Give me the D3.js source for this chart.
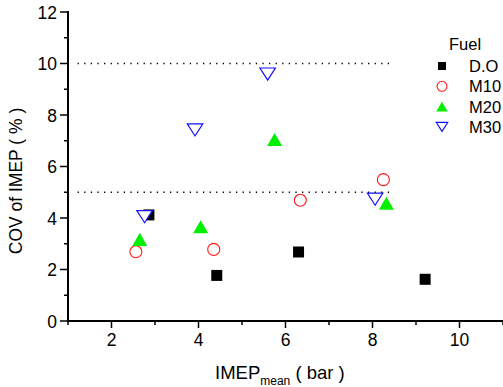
<!DOCTYPE html>
<html>
<head>
<meta charset="utf-8">
<script src="https://cdn.jsdelivr.net/npm/d3@7"></script>
<style>
  html, body { margin: 0; padding: 0; background: #fff; }
  svg { display: block; }
  text { font-family: "Liberation Sans", Arial, sans-serif; fill: #000; }
</style>
</head>
<body>
<svg id="chart" width="503" height="387"></svg>
<script>
// ---- data ----
const seriesNames = ["D.O", "M10", "M20", "M30"];
const doX  = [2.86, 4.42, 6.30, 9.21];
const doY  = [4.12, 1.77, 2.68, 1.62];
const m10X = [2.56, 4.35, 6.34, 8.25];
const m10Y = [2.69, 2.78, 4.69, 5.49];
const m20X = [2.65, 4.05, 5.75, 8.32];
const m20Y = [3.17, 3.66, 7.05, 4.57];
const m30X = [2.76, 3.92, 5.59, 8.06];
const m30Y = [4.05, 7.42, 9.59, 4.73];
const refLevels = [10, 5];
const refStart = 1.22, refEnd = 8.47;
const xTicks = [2, 4, 6, 8, 10];
const yTicks = [0, 2, 4, 6, 8, 10, 12];
const xMinor = [1, 3, 5, 7, 9, 11];
const yMinor = [1, 3, 5, 7, 9, 11];

const svg = d3.select("#chart");
const x = d3.scaleLinear().domain([1, 11]).range([68, 503]);
const y = d3.scaleLinear().domain([0, 12]).range([321, 12]);

// reference dotted lines
svg.selectAll("line.ref").data(refLevels).enter().append("line")
  .attr("x1", x(refStart)).attr("x2", x(refEnd))
  .attr("y1", d => y(d)).attr("y2", d => y(d))
  .attr("stroke", "#000").attr("stroke-width", 1.3)
  .attr("stroke-dasharray", "1.3,5.3");

// axes
const yAxis = svg.append("g");
yAxis.append("line").attr("x1", 68).attr("x2", 68).attr("y1", y(12) - 1).attr("y2", y(0) + 1)
  .attr("stroke", "#000").attr("stroke-width", 2);
yAxis.selectAll("line.maj").data(yTicks).enter().append("line")
  .attr("x1", 60).attr("x2", 68).attr("y1", d => y(d)).attr("y2", d => y(d))
  .attr("stroke", "#000").attr("stroke-width", 1.5);
yAxis.selectAll("line.min").data(yMinor).enter().append("line")
  .attr("x1", 64).attr("x2", 68).attr("y1", d => y(d)).attr("y2", d => y(d))
  .attr("stroke", "#000").attr("stroke-width", 1.5);
yAxis.selectAll("text").data(yTicks).enter().append("text")
  .attr("x", 57).attr("y", d => y(d) + 6.5).attr("text-anchor", "end")
  .attr("font-size", 17.5).text(d => d);

const xAxis = svg.append("g");
xAxis.append("line").attr("x1", 67).attr("x2", 503).attr("y1", 321).attr("y2", 321)
  .attr("stroke", "#000").attr("stroke-width", 2);
xAxis.selectAll("line.maj").data(xTicks).enter().append("line")
  .attr("x1", d => x(d)).attr("x2", d => x(d)).attr("y1", 321).attr("y2", 328)
  .attr("stroke", "#000").attr("stroke-width", 1.5);
xAxis.selectAll("line.min").data(xMinor).enter().append("line")
  .attr("x1", d => x(d)).attr("x2", d => x(d)).attr("y1", 321).attr("y2", 325)
  .attr("stroke", "#000").attr("stroke-width", 1.5);
xAxis.selectAll("text").data(xTicks).enter().append("text")
  .attr("x", d => x(d)).attr("y", 346).attr("text-anchor", "middle")
  .attr("font-size", 17.5).text(d => d);

// axis titles
svg.append("text").attr("transform", "translate(22,181) rotate(-90)")
  .attr("text-anchor", "middle").attr("font-size", 17.5).text("COV of IMEP ( % )");
const xt = svg.append("text").attr("x", 215).attr("y", 379).attr("font-size", 18.5);
xt.append("tspan").text("IMEP");
xt.append("tspan").attr("font-size", 12).attr("dy", 6).text("mean");
xt.append("tspan").attr("dy", -6).text(" ( bar )");

// marker shapes
const square = { draw(c, s) { const h = Math.sqrt(s) / 2; c.rect(-h, -h, 2 * h, 2 * h); } };
const triUp = { draw(c, s) { const w = Math.sqrt(s) / 2, h = w * 0.87; c.moveTo(0, -h); c.lineTo(w, h); c.lineTo(-w, h); c.closePath(); } };
const triDown = { draw(c, s) { const w = Math.sqrt(s) / 2, h = w * 0.78; c.moveTo(-w, -h); c.lineTo(w, -h); c.lineTo(0, h); c.closePath(); } };

const series = [
  { name: seriesNames[0], xs: doX, ys: doY, type: square, size: 121, legSize: 64, fill: "#000", stroke: "none", sw: 0 },
  { name: seriesNames[1], xs: m10X, ys: m10Y, type: d3.symbolCircle, size: 113, legSize: 78, fill: "#fff", stroke: "#ff1a1a", sw: 1.1 },
  { name: seriesNames[2], xs: m20X, ys: m20Y, type: triUp, size: 225, legSize: 130, fill: "#00f000", stroke: "none", sw: 0 },
  { name: seriesNames[3], xs: m30X, ys: m30Y, type: triDown, size: 240, legSize: 130, fill: "#fff", stroke: "#1010ff", sw: 1.2 }
];

series.forEach(s => {
  const pts = s.xs.map((v, i) => [v, s.ys[i]]);
  svg.append("g").selectAll("path").data(pts).enter().append("path")
    .attr("transform", d => `translate(${x(d[0])},${y(d[1])})`)
    .attr("d", d3.symbol().type(s.type).size(s.size)())
    .attr("fill", s.fill).attr("stroke", s.stroke).attr("stroke-width", s.sw);
});

// legend
const leg = svg.append("g");
leg.append("text").attr("x", 449).attr("y", 50).attr("font-size", 16.5).text("Fuel");
series.forEach((s, i) => {
  const cy = 66 + i * 20.3;
  leg.append("path").attr("transform", `translate(442,${cy})`)
    .attr("d", d3.symbol().type(s.type).size(s.legSize)())
    .attr("fill", s.fill).attr("stroke", s.stroke).attr("stroke-width", s.sw);
  leg.append("text").attr("x", 469).attr("y", cy + 6).attr("font-size", 16.5).text(s.name);
});
</script>
</body>
</html>
